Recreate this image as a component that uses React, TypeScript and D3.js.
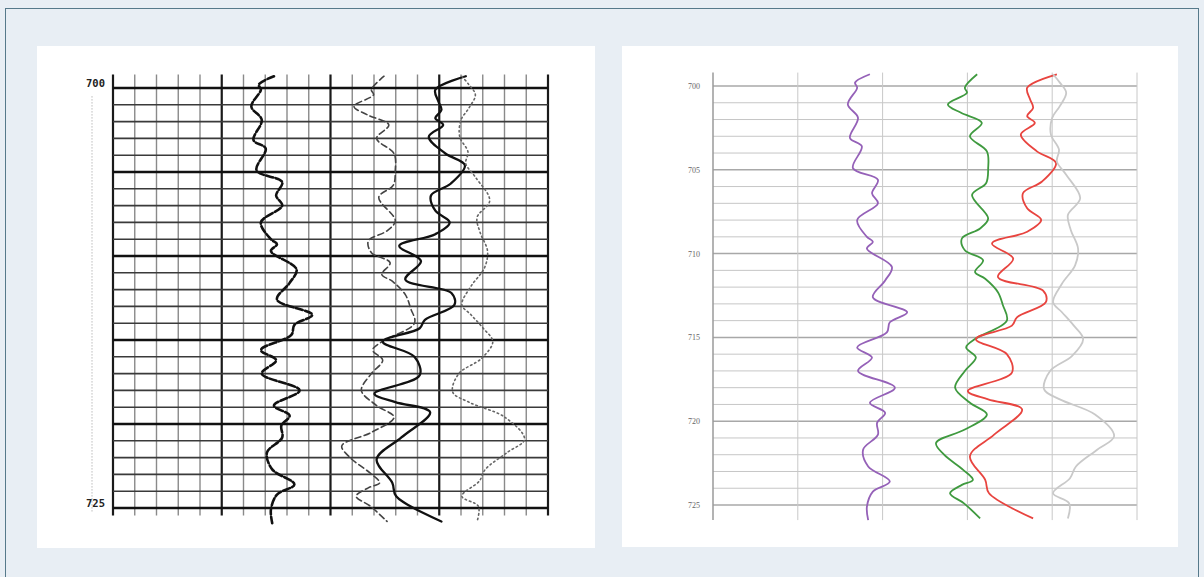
import React from "react";
import * as d3 from "d3";

// Depth ticks
const leftDepthLabels = [700, 725];
const rightDepthLabels = [700, 705, 710, 715, 720, 725];
const depthLines = d3.range(700, 726, 1);

// Curve A (purple / left solid wiggle)
const curveADepth = [699.3, 699.8, 700.1, 701.1, 701.9, 703.1, 703.6, 704.9, 705.6, 706.4, 707.0, 708.0, 709.0, 709.3, 709.7, 710.8, 711.6, 712.6, 713.5, 714.1, 714.7, 715.6, 716.2, 717.0, 718.0, 718.9, 719.5, 720.1, 720.8, 721.7, 722.7, 723.6, 724.2, 725.1, 725.9];
const curveAValue = [37.0, 33.5, 34.0, 31.8, 34.2, 32.3, 35.1, 33.0, 38.9, 37.5, 38.9, 34.0, 36.3, 37.7, 36.3, 42.2, 40.6, 37.7, 45.8, 41.7, 41.0, 34.0, 37.5, 34.2, 42.9, 37.0, 40.6, 38.7, 38.9, 35.4, 36.6, 41.7, 37.7, 36.3, 36.6];

// Curve B (green / left dashed)
const curveBDepth = [699.3, 700.1, 700.4, 701.1, 701.6, 702.2, 703.0, 703.9, 704.9, 705.8, 706.5, 707.9, 708.5, 709.1, 709.8, 710.4, 711.1, 711.5, 712.3, 713.1, 714.0, 715.1, 715.6, 716.2, 717.0, 718.0, 718.9, 719.6, 720.5, 721.3, 722.0, 722.9, 723.5, 723.8, 724.3, 724.9, 725.8];
const curveBValue = [62.3, 59.4, 59.9, 55.4, 58.5, 63.4, 60.6, 64.6, 64.9, 64.4, 61.1, 64.9, 63.0, 58.7, 59.4, 63.7, 61.8, 64.2, 67.2, 68.4, 69.3, 61.8, 59.7, 62.0, 59.4, 57.1, 60.6, 64.6, 59.4, 52.6, 54.5, 59.0, 61.3, 58.7, 55.9, 59.2, 63.0];

// Curve C (red / left thick solid)
const curveCDepth = [699.3, 700.1, 700.8, 701.3, 701.8, 702.2, 702.9, 703.9, 704.6, 705.7, 706.4, 707.3, 708.0, 708.7, 709.4, 710.3, 711.4, 712.2, 712.9, 713.8, 714.3, 715.1, 716.0, 717.1, 718.2, 718.7, 719.3, 720.8, 722.1, 723.5, 724.3, 725.8];
const curveCValue = [81.1, 74.1, 74.8, 75.5, 74.1, 75.9, 72.6, 76.4, 80.9, 77.6, 73.1, 74.1, 77.4, 74.1, 65.8, 70.8, 67.2, 77.8, 78.5, 71.7, 70.5, 62.0, 69.3, 70.5, 60.1, 64.9, 72.9, 66.3, 60.6, 64.2, 65.1, 75.5];

// Curve D (gray / left dotted)
const curveDDepth = [699.3, 699.8, 700.4, 701.2, 701.9, 702.9, 703.8, 704.5, 705.3, 706.7, 707.7, 708.6, 709.7, 710.7, 711.8, 712.9, 713.5, 714.3, 715.1, 716.1, 717.0, 718.1, 718.7, 719.6, 720.9, 721.7, 722.7, 723.4, 724.3, 724.9, 725.8];
const curveDValue = [80.2, 81.8, 83.3, 81.8, 80.0, 79.7, 81.6, 81.1, 83.3, 86.6, 83.7, 84.4, 86.1, 85.4, 82.3, 80.2, 82.3, 85.1, 87.3, 84.7, 79.5, 78.1, 81.8, 90.1, 94.6, 90.6, 85.6, 84.2, 80.2, 84.0, 83.7];

const curves = [
  { depth: curveADepth, value: curveAValue },
  { depth: curveBDepth, value: curveBValue },
  { depth: curveCDepth, value: curveCValue },
  { depth: curveDDepth, value: curveDValue },
];

const leftStyles = [
  { stroke: "#111", width: 2.6, dash: "7 2.5" },
  { stroke: "#444", width: 1.6, dash: "6 3.5" },
  { stroke: "#111", width: 2.3, dash: "" },
  { stroke: "#666", width: 1.6, dash: "1.5 3" },
];
const rightStyles = [
  { stroke: "#9561b8", width: 1.8 },
  { stroke: "#3f9a3f", width: 1.8 },
  { stroke: "#e8443f", width: 1.8 },
  { stroke: "#c9c9c9", width: 1.8 },
];

export default function App() {
  const W = 1204, H = 577;
  // left panel scales
  const lx = d3.scaleLinear().domain([0, 100]).range([113, 548]);
  const ly = d3.scaleLinear().domain([700, 725]).range([88, 508]);
  // right panel scales
  const rx = d3.scaleLinear().domain([0, 100]).range([713, 1137]);
  const ry = d3.scaleLinear().domain([700, 725]).range([86, 505]);

  const leftV = d3.range(0, 101, 5);
  const rightV = d3.range(0, 101, 20);

  const mkLine = (xs: any, ys: any, curve: any) =>
    d3.line<[number, number]>().x((p) => xs(p[1])).y((p) => ys(p[0])).curve(curve);

  return (
    <div style={{ position: "absolute", left: 0, top: 0 }}>
      <svg width={W} height={H} style={{ display: "block" }}>
        <rect x={0} y={0} width={W} height={H} fill="#e8eef4" />
        <rect x={5.5} y={8.5} width={1193} height={580} fill="#e8eef4" stroke="#56798a" strokeWidth={1} />
        {/* panels */}
        <rect x={37} y={46} width={558} height={502} fill="#ffffff" />
        <rect x={622} y={46} width={556} height={501} fill="#ffffff" />

        {/* LEFT PANEL */}
        <g>
          <line x1={92} x2={92} y1={ly(700.5)} y2={ly(725.2)} stroke="#999" strokeWidth={1} strokeDasharray="1 2" />
          {leftV.map((v, i) => (
            <line key={"lv" + v} x1={lx(v)} x2={lx(v)} y1={ly(699.2)} y2={ly(725.45)}
              stroke={i % 5 === 0 ? "#1a1a1a" : "#8a8a8a"} strokeWidth={i % 5 === 0 ? 2.2 : 1.4} />
          ))}
          {depthLines.map((d) => (
            <line key={"lh" + d} x1={lx(0)} x2={lx(100)} y1={ly(d)} y2={ly(d)}
              stroke={(d - 700) % 5 === 0 ? "#111" : "#3a3a3a"} strokeWidth={(d - 700) % 5 === 0 ? 2.6 : 1.6} />
          ))}
          {leftDepthLabels.map((d) => (
            <text key={"ll" + d} x={105} y={ly(d) - 1} textAnchor="end" fontFamily="DejaVu Sans Mono" fontWeight="bold"
              fontSize={10.5} fill="#222">{d}</text>
          ))}
          {curves.map((c, i) => {
            const pts = c.depth.map((d, k) => [d, c.value[k]] as [number, number]);
            const s = leftStyles[i];
            return (
              <path key={"lc" + i} d={mkLine(lx, ly, d3.curveCatmullRom.alpha(0.5))(pts) || ""} fill="none" stroke={s.stroke}
                strokeWidth={s.width} strokeDasharray={s.dash} strokeLinejoin="round" strokeLinecap="round" />
            );
          })}
        </g>

        {/* RIGHT PANEL */}
        <g>
          {depthLines.map((d) => (
            <line key={"rh" + d} x1={rx(0)} x2={rx(100)} y1={ry(d)} y2={ry(d)}
              stroke={(d - 700) % 5 === 0 ? "#a8a8a8" : "#c6c6c6"} strokeWidth={(d - 700) % 5 === 0 ? 1.5 : 1} />
          ))}
          {rightV.map((v, i) => (
            <line key={"rv" + v} x1={rx(v)} x2={rx(v)} y1={ry(699.2)} y2={ry(725.9)}
              stroke={i === 0 ? "#9a9a9a" : "#c8c8c8"} strokeWidth={i === 0 ? 1.5 : 1} />
          ))}
          {rightDepthLabels.map((d) => (
            <text key={"rl" + d} x={700} y={ry(d) + 3} textAnchor="end" fontFamily="Liberation Serif"
              fontSize={8} fill="#666">{d}</text>
          ))}
          {curves.map((c, i) => {
            const pts = c.depth.map((d, k) => [d, c.value[k]] as [number, number]);
            const s = rightStyles[i];
            return (
              <path key={"rc" + i} d={mkLine(rx, ry, d3.curveCatmullRom.alpha(0.5))(pts) || ""} fill="none"
                stroke={s.stroke} strokeWidth={s.width} strokeLinejoin="round" />
            );
          })}
        </g>
      </svg>
    </div>
  );
}
